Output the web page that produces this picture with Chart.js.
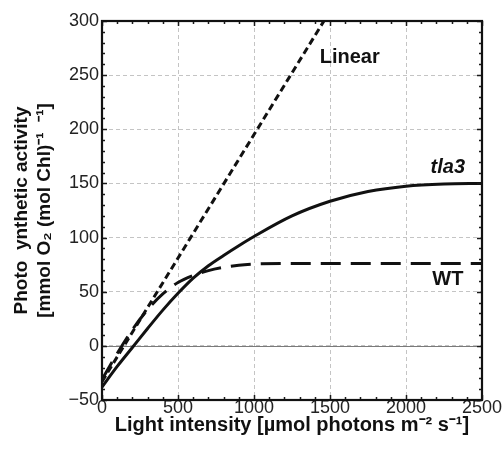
<!DOCTYPE html>
<html><head><meta charset="utf-8">
<script src="https://cdn.jsdelivr.net/npm/chart.js@4/dist/chart.umd.min.js"></script>
<style>html,body{margin:0;padding:0;background:#fff}#wrap{width:503px;height:454px;position:relative}</style>
</head><body><div id="wrap"><canvas id="c" width="503" height="454"></canvas></div>
<script>
// ---- data ----
const xTicks = [0, 500, 1000, 1500, 2000, 2500];
const yTicks = [-50, 0, 50, 100, 150, 200, 250, 300];
const xMinorStep = 100;
const yMinorStep = 10;

const linearX = [0, 1460];
const linearY = [-33, 300];

const tla3X = [0, 100, 200, 300, 400, 500, 600, 700, 800, 900, 1000, 1250, 1500, 1750, 2000, 2250, 2500];
const tla3Y = [-38, -19, -1.5, 16, 33, 48.5, 62.5, 74, 83.5, 92.5, 101, 120, 133.5, 142.5, 147.5, 149.5, 150];

const wtX = [0, 100, 200, 300, 400, 500, 600, 700, 800, 900, 1000, 1200, 1600, 2000, 2500];
const wtY = [-31, -7, 15, 33.5, 48, 58.5, 65, 69.5, 72.5, 74.5, 75.5, 76, 76, 76, 76];

const seriesNames = ['Linear', 'tla3', 'WT'];
// label anchor positions in data units
const labelX = [1630, 2275, 2275];
const labelY = [266, 165, 61];

const xTitle = 'Light intensity [\u00b5mol photons m\u207b\u00b2 s\u207b\u00b9]';
const yTitle = ['Photo  ynthetic activity', '[mmol O\u2082 (mol Chl)\u207b\u00b9  \u207b\u00b9]'];

const pts = (xs, ys) => xs.map((x, i) => ({x, y: ys[i]}));

const FONT = "'Liberation Sans', Arial, Helvetica, sans-serif";

const boxPlugin = {
  id: 'boxTicks',
  beforeDatasetsDraw(chart) {
    const {ctx, chartArea: a, scales: {y}} = chart;
    ctx.save();
    ctx.strokeStyle = '#7a7a7a';
    ctx.lineWidth = 1;
    const y0 = Math.round(y.getPixelForValue(0)) + 0.5;
    ctx.beginPath(); ctx.moveTo(a.left, y0); ctx.lineTo(a.right, y0); ctx.stroke();
    ctx.restore();
  },
  afterDatasetsDraw(chart) {
    const {ctx, chartArea: a, scales: {x, y}} = chart;
    ctx.save();
    ctx.strokeStyle = '#1a1a1a';
    ctx.lineWidth = 1.5;
    for (let v = x.min; v <= x.max + 1e-9; v += xMinorStep) {
      const px = Math.round(x.getPixelForValue(v)) + 0.5;
      const len = xTicks.includes(v) ? 5 : 3;
      ctx.beginPath();
      ctx.moveTo(px, a.bottom); ctx.lineTo(px, a.bottom - len);
      ctx.moveTo(px, a.top); ctx.lineTo(px, a.top + len);
      ctx.stroke();
    }
    for (let v = y.min; v <= y.max + 1e-9; v += yMinorStep) {
      const py = Math.round(y.getPixelForValue(v)) + 0.5;
      const len = yTicks.includes(v) ? 5 : 3;
      ctx.beginPath();
      ctx.moveTo(a.left, py); ctx.lineTo(a.left + len, py);
      ctx.moveTo(a.right, py); ctx.lineTo(a.right - len, py);
      ctx.stroke();
    }
    ctx.strokeStyle = '#111';
    ctx.lineWidth = 2.2;
    ctx.strokeRect(a.left, a.top, a.right - a.left, a.bottom - a.top);
    ctx.fillStyle = '#111';
    ctx.textAlign = 'center';
    ctx.textBaseline = 'middle';
    seriesNames.forEach((name, i) => {
      ctx.font = (name === 'tla3' ? 'italic bold ' : 'bold ') + '20px ' + FONT;
      ctx.fillText(name, x.getPixelForValue(labelX[i]), y.getPixelForValue(labelY[i]));
    });
    ctx.restore();
  }
};

new Chart(document.getElementById('c'), {
  type: 'line',
  data: {
    datasets: [
      {label: seriesNames[0], data: pts(linearX, linearY), borderColor: '#111', borderWidth: 3, borderDash: [7, 4], pointRadius: 0, tension: 0},
      {label: seriesNames[1], data: pts(tla3X, tla3Y), borderColor: '#111', borderWidth: 3, pointRadius: 0, cubicInterpolationMode: 'monotone'},
      {label: seriesNames[2], data: pts(wtX, wtY), borderColor: '#111', borderWidth: 3, borderDash: [20, 10], pointRadius: 0, cubicInterpolationMode: 'monotone'}
    ]
  },
  options: {
    responsive: false,
    animation: false,
    devicePixelRatio: 1,
    layout: {padding: {top: 21, right: 21, left: 0, bottom: 0}},
    plugins: {legend: {display: false}, tooltip: {enabled: false}},
    scales: {
      x: {
        type: 'linear', min: 0, max: 2500,
        afterBuildTicks: s => { s.ticks = xTicks.map(v => ({value: v})); },
        afterFit: s => { s.height = 54; s.paddingLeft = 0; s.paddingRight = 0; },
        grid: {color: '#c4c4c4', lineWidth: 1, drawTicks: false},
        border: {display: false, dash: [4, 3]},
        ticks: {color: '#222', font: {family: FONT, size: 18, lineHeight: 0.9}, padding: 0, maxRotation: 0, callback: v => String(v)},
        title: {display: true, text: xTitle, color: '#111', font: {family: FONT, size: 20, weight: 'bold'}, padding: {top: 0, bottom: 17}}
      },
      y: {
        type: 'linear', min: -50, max: 300,
        afterBuildTicks: s => { s.ticks = yTicks.map(v => ({value: v})); },
        afterFit: s => { s.width = 102; s.paddingTop = 0; s.paddingBottom = 0; },
        grid: {color: '#c4c4c4', lineWidth: 1, drawTicks: false},
        border: {display: false, dash: [4, 3]},
        ticks: {color: '#222', font: {family: FONT, size: 18}, padding: 3, callback: v => String(v).replace('-', '\u2212')},
        title: {display: true, text: yTitle, color: '#111', font: {family: FONT, size: 19, weight: 'bold', lineHeight: 1.2}, padding: {top: 10.6, bottom: 0}}
      }
    }
  },
  plugins: [boxPlugin]
});
</script>
</body></html>
